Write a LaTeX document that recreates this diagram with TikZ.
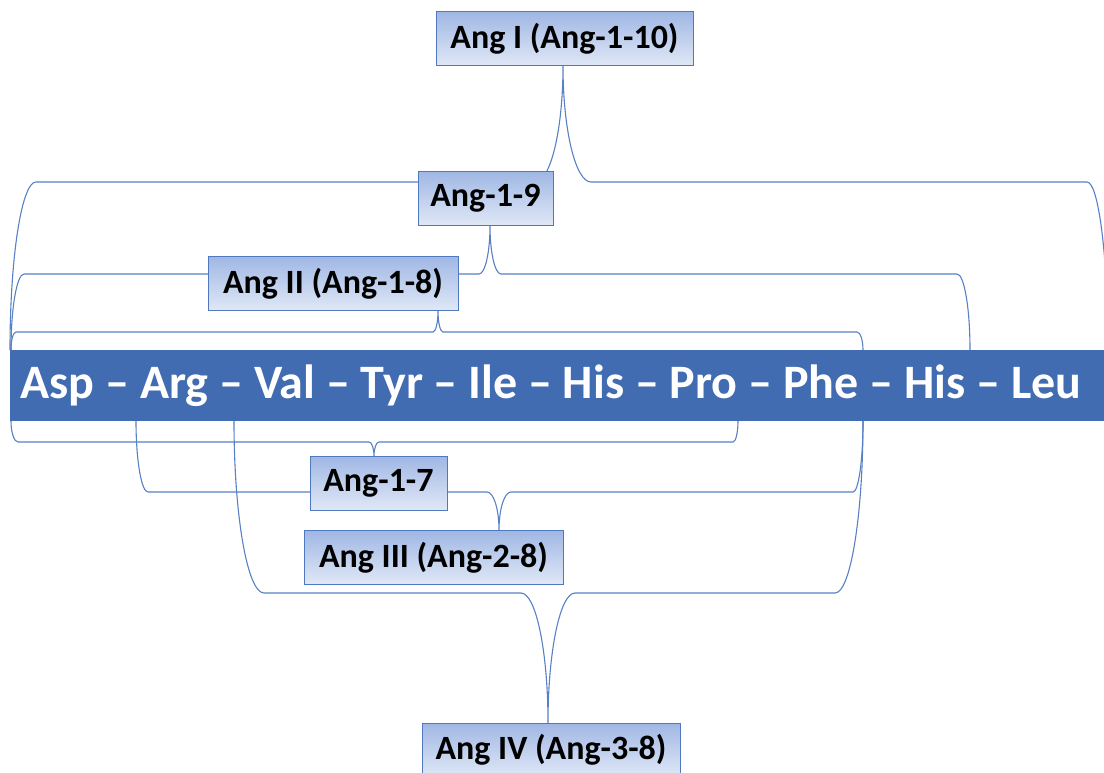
\documentclass[tikz,border=0pt]{standalone}
\usepackage{fontspec}
\setmainfont{Carlito}
\definecolor{barblue}{RGB}{66,108,177}
\definecolor{boxedge}{RGB}{80,120,190}
\definecolor{boxtop}{RGB}{160,183,228}
\definecolor{boxbot}{RGB}{224,232,246}
\definecolor{linecol}{RGB}{88,128,196}
\tikzset{
  pepbox/.style={draw=boxedge, line width=1pt, top color=boxtop, bottom color=boxbot,
    font=\bfseries\fontsize{34}{38}\selectfont, inner sep=0pt, minimum height=54pt},
  chainbar/.style={fill=barblue, draw=none, text=white, inner sep=0pt,
    font=\bfseries\fontsize{48}{52}\selectfont},
  bracket/.style={draw=linecol, line width=1.1pt},
}
% Brace made of quarter ellipses:
% #1 left foot x, #2 left corner x, #3 right corner x, #4 right foot x,
% #5 foot y, #6 level of the long arms, #7 tip x, #8 tip y, #9 half width of the tip
\newcommand\anglebrace[9]{%
  \draw[bracket] (#1,#5)
    .. controls (#1,{#5+0.552*(#6-#5)}) and ({#2+0.552*(#1-#2)},#6) .. (#2,#6)
    -- ({#7-#9},#6)
    .. controls ({#7-#9+0.552*#9},#6) and (#7,{#8+0.552*(#6-#8)}) .. (#7,#8)
    .. controls (#7,{#8+0.552*(#6-#8)}) and ({#7+#9-0.552*#9},#6) .. ({#7+#9},#6)
    -- (#3,#6)
    .. controls ({#3+0.552*(#4-#3)},#6) and (#4,{#5+0.552*(#6-#5)}) .. (#4,#5);}
\begin{document}
\begin{tikzpicture}[x=1pt,y=-1pt]
\useasboundingbox (0,0) rectangle (1104,773);

% braces above the chain
\anglebrace{10}{36}{1087}{1108}{350}{182}{563}{66}{28}
\anglebrace{11}{24}{957}{970}{350}{274}{490}{226}{11}
\anglebrace{11}{16}{857}{863}{350}{332}{438}{311}{5}
% braces below the chain
\anglebrace{11}{18}{733}{738}{421}{442}{374}{456}{5}
\anglebrace{136}{148}{853}{863}{421}{492}{499}{530}{12}
\anglebrace{234}{264}{835}{863}{421}{593}{548}{723}{27}

% the decapeptide
\node[chainbar, minimum width=1094pt, minimum height=71pt] (chain) at (557,385.5)
  {\hspace*{-12pt}Asp – Arg – Val – Tyr – Ile – His – Pro – Phe – His – Leu};

% fragments
\node[pepbox, minimum width=257pt] (angI)   at (564.5,39)  {Ang I (Ang-1-10)};
\node[pepbox, minimum width=135pt] (ang19)  at (485.5,198.5) {Ang-1-9};
\node[pepbox, minimum width=250pt] (angII)  at (333,283.5) {Ang II (Ang-1-8)};
\node[pepbox, minimum width=137pt] (ang17)  at (378.5,483) {Ang-1-7};
\node[pepbox, minimum width=259pt] (angIII) at (433.5,557.5) {Ang III (Ang-2-8)};
\node[pepbox, minimum width=258pt] (angIV)  at (551,750) {Ang IV (Ang-3-8)};
\end{tikzpicture}
\end{document}
